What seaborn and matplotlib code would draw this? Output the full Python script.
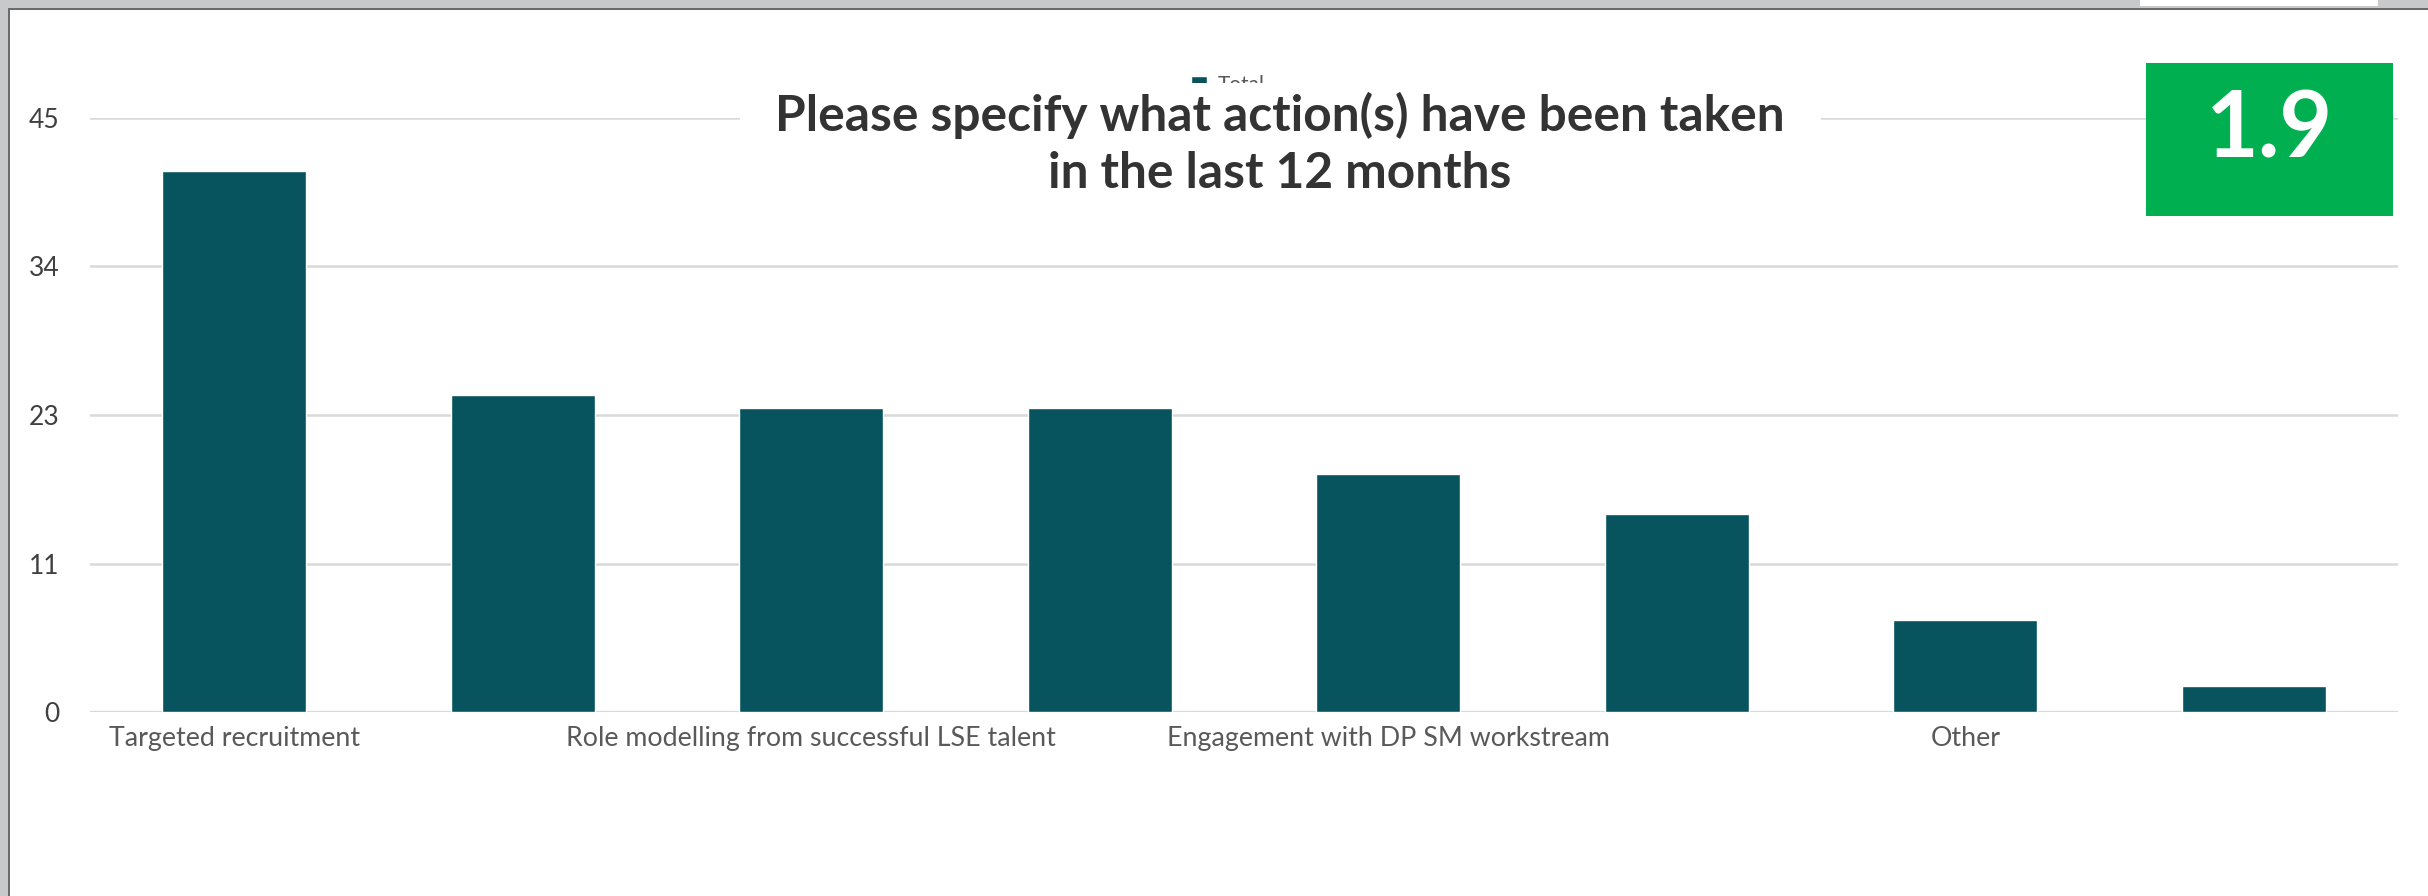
import numpy as np
import pandas as pd
import seaborn as sns
import matplotlib
matplotlib.use("Agg")
import matplotlib.pyplot as plt
from matplotlib.patches import Rectangle

# ---------------- data ----------------
categories = [
    "Targeted recruitment",
    "(unlabelled 2)",
    "Role modelling from successful LSE talent",
    "(unlabelled 4)",
    "Engagement with DP SM workstream",
    "(unlabelled 6)",
    "Other",
    "(unlabelled 8)",
]
x_tick_labels = [
    "Targeted recruitment", "",
    "Role modelling from successful LSE talent", "",
    "Engagement with DP SM workstream", "",
    "Other", "",
]
values = [41, 24, 23, 23, 18, 15, 7, 2]
series_name = "Total"
y_ticks = [0, 11.25, 22.5, 33.75, 45]
y_tick_labels = ["0", "11", "23", "34", "45"]
title = "Please specify what action(s) have been taken\nin the last 12 months"
badge = "1.9"

# ---------------- style ----------------
sns.set_theme(style="white")
plt.rcParams["font.family"] = ["Lato", "DejaVu Sans"]

W, H = 2428, 896
fig = plt.figure(figsize=(W / 100, H / 100), dpi=100)
fig.patch.set_facecolor("white")


def fx(x):
    return x / W


def fy(y):
    return 1 - y / H


ax_left, ax_right, ax_top, ax_bottom = 90, 2398, 117.7, 712.3
ax = fig.add_axes([fx(ax_left), fy(ax_bottom), fx(ax_right - ax_left), (ax_bottom - ax_top) / H])

df = pd.DataFrame({"category": categories, "value": values, "series": series_name})
sns.barplot(data=df, x="category", y="value", hue="series", palette=["#07535E"],
            width=0.5, saturation=1, ax=ax, zorder=3)

ax.set_ylim(0, 45)
ax.set_xlim(-0.5, len(categories) - 0.5)
ax.set_yticks(y_ticks)
ax.set_yticklabels(y_tick_labels)
ax.set_xticks(range(len(categories)))
ax.set_xticklabels(x_tick_labels)
ax.set_xlabel("")
ax.set_ylabel("")
for s in ax.spines.values():
    s.set_visible(False)
ax.grid(axis="y", color="#D9D9D9", linewidth=1.8, zorder=0)
ax.set_axisbelow(True)
ax.axhline(0, color="#D9D9D9", linewidth=2.4, zorder=2)
ax.tick_params(axis="y", length=0, pad=22, labelsize=19, labelcolor="#404040")
ax.tick_params(axis="x", length=0, pad=10, labelsize=19, labelcolor="#595959")

# legend (partially hidden under the title box, as in the original)
leg = ax.legend(loc="lower left", bbox_to_anchor=(fx(1181), fy(105)),
                bbox_transform=fig.transFigure, frameon=False, fontsize=15,
                handlelength=0.75, handleheight=0.75, handletextpad=0.5,
                labelcolor="#595959", borderpad=0)

# title with white box covering
fig.patches.append(Rectangle((fx(740), fy(205)), fx(1821 - 740), (205 - 83) / H,
                             transform=fig.transFigure, facecolor="white",
                             edgecolor="none", zorder=5))
t = fig.text(fx(1280), fy(144), title, ha="center", va="center",
             fontsize=33, fontweight="bold", color="#333333",
             linespacing=1.32, zorder=6)

# green badge
fig.patches.append(Rectangle((fx(2146), fy(216)), fx(2393 - 2146), (216 - 63) / H,
                             transform=fig.transFigure, facecolor="#00B050",
                             edgecolor="none", zorder=5))
b = fig.text(fx(2270), fy(132), badge, ha="center", va="center",
             fontsize=70, fontweight="bold", color="white", zorder=6)

# window frame
fig.patches.append(Rectangle((0, fy(8)), 1, 8 / H, transform=fig.transFigure,
                             facecolor="#C8C9CB", edgecolor="none", zorder=7))
fig.patches.append(Rectangle((0, fy(10)), 1, 2 / H, transform=fig.transFigure,
                             facecolor="#6B6B6B", edgecolor="none", zorder=7))
fig.patches.append(Rectangle((0, 0), fx(8), 1, transform=fig.transFigure,
                             facecolor="#C8C9CB", edgecolor="none", zorder=7))
fig.patches.append(Rectangle((fx(8), 0), fx(2), fy(8), transform=fig.transFigure,
                             facecolor="#6B6B6B", edgecolor="none", zorder=7))
fig.patches.append(Rectangle((fx(2140), fy(6)), fx(2378 - 2140), 6 / H, transform=fig.transFigure,
                             facecolor="white", edgecolor="none", zorder=8))

# fit text widths to reference
fig.canvas.draw()
r = fig.canvas.get_renderer()


def fit(txt, target):
    w = txt.get_window_extent(r).width
    txt.set_fontsize(txt.get_fontsize() * target / w)


fit(t, 1011)
fit(b, 127)
lab0 = ax.get_xticklabels()[0]
w0 = lab0.get_window_extent(r).width
fs = lab0.get_fontsize() * 251 / w0
ax.tick_params(axis="x", labelsize=fs)

fig.savefig("out.png", dpi=100, facecolor="white")
